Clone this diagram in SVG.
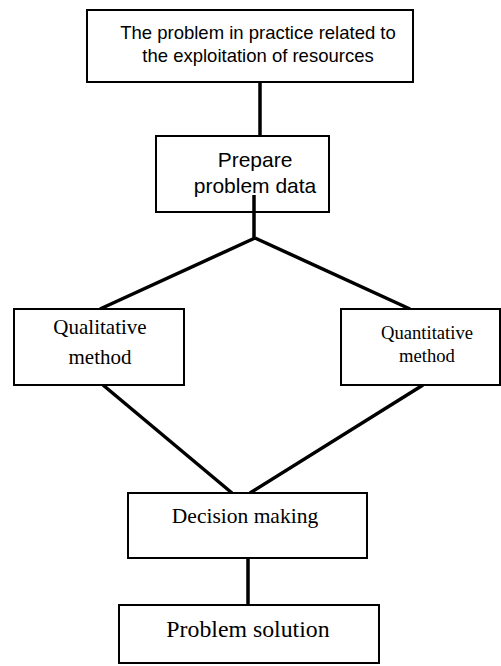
<svg xmlns="http://www.w3.org/2000/svg" width="501" height="666" viewBox="0 0 501 666">
<style>
.box{fill:#fff;stroke:#000;stroke-width:2}
.con{stroke:#000;stroke-width:3.5;fill:none}
.sans{font-family:"Liberation Sans",Arial,sans-serif;fill:#000;text-anchor:middle}
.serif{font-family:"Liberation Serif","Times New Roman",serif;fill:#000;text-anchor:middle}
</style>
<rect width="501" height="666" fill="#fff"/>
<g id="connectors">
<line class="con" x1="260" y1="82" x2="260" y2="136"/>
<line class="con" x1="100" y1="309" x2="255" y2="238"/>
<line class="con" x1="255" y1="238" x2="410" y2="309"/>
<line class="con" x1="103" y1="385" x2="232" y2="493"/>
<line class="con" x1="423" y1="385" x2="250" y2="493"/>
<line class="con" x1="248" y1="558" x2="248" y2="605"/>
</g>
<g id="n1">
<rect class="box" x="87" y="10" width="326" height="72"/>
<text class="sans" x="258" y="39" font-size="18.5">The problem in practice related to</text>
<text class="sans" x="258" y="62" font-size="18.5">the exploitation of resources</text>
</g>
<g id="n2">
<rect class="box" x="156" y="136" width="173" height="76"/>
<text class="sans" x="255" y="167" font-size="21">Prepare</text>
<text class="sans" x="255" y="193" font-size="21">problem data</text>
</g>
<line class="con" x1="254" y1="195" x2="254" y2="238"/>
<g id="n3">
<rect class="box" x="14" y="309" width="170" height="76"/>
<text class="serif" x="100" y="334" font-size="21">Qualitative</text>
<text class="serif" x="100" y="364" font-size="21">method</text>
</g>
<g id="n4">
<rect class="box" x="341" y="309" width="159" height="76"/>
<text class="serif" x="427" y="339" font-size="18.6">Quantitative</text>
<text class="serif" x="427" y="362" font-size="18.6">method</text>
</g>
<g id="n5">
<rect class="box" x="128" y="493" width="239" height="65"/>
<text class="serif" x="245" y="523" font-size="21.5">Decision making</text>
</g>
<g id="n6">
<rect class="box" x="119" y="605" width="260" height="58"/>
<text class="serif" x="248" y="637" font-size="23.8">Problem solution</text>
</g>
</svg>
